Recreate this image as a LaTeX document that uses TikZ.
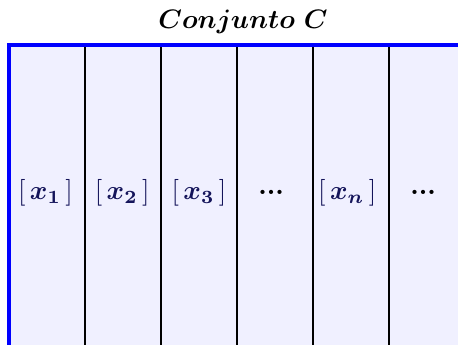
\documentclass[tikz,border=0pt]{standalone}
\usepackage{amsmath, amssymb}
\usepackage{tikz}
\usetikzlibrary{positioning}
\usepackage{xcolor}
\definecolor{fondoazul}{RGB}{240,240,255}
\definecolor{tinta}{RGB}{20,20,90}

\begin{document}
\begin{tikzpicture}[x=1cm, y=1cm,
        borde/.style={draw=blue, line width=1.4pt},
        separador/.style={draw=black, line width=0.4pt},
        clase/.style={text=tinta},
        puntos/.style={font=\boldmath, text=black}]
      \useasboundingbox (-0.118,-3.951) rectangle (5.908,0.588);
      \fill[fondoazul] (0,0) rectangle (5.908,-3.951);
      \foreach \k in {1,...,5}
        \draw[separador] (\k,0) -- (\k,-3.951);
      \draw[borde] (0,-3.951) -- (0,0) -- (5.908,0);
      \node[font=\boldmath] (titulo) at (3.08,0.30) {$Conjunto\ C$};
      \node[clase] (x1) at (0.48,-1.95) {$[\,\boldsymbol{x_1}\,]$};
      \node[clase] (x2) at (1.49,-1.95) {$[\,\boldsymbol{x_2}\,]$};
      \node[clase] (x3) at (2.5,-1.95) {$[\,\boldsymbol{x_3}\,]$};
      \node[puntos] (p1) at (3.45,-1.95) {$...$};
      \node[clase] (xn) at (4.45,-1.95) {$[\,\boldsymbol{x_n}\,]$};
      \node[puntos] (p2) at (5.45,-1.95) {$...$};
    \end{tikzpicture}
\end{document}
